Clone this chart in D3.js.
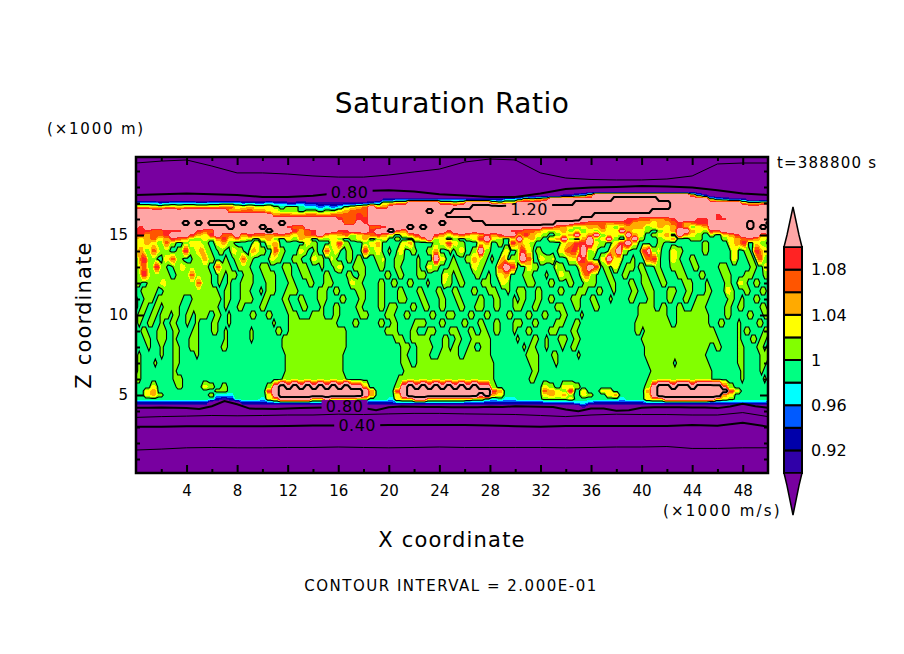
<!DOCTYPE html>
<html>
<head>
<meta charset="utf-8">
<script src="https://cdn.jsdelivr.net/npm/d3@7"></script>
<style>
body { margin: 0; background: #fff; }
text { font-family: "DejaVu Sans", sans-serif; fill: #000; }
</style>
</head>
<body>
<div id="TOP"></div>
<script>
//------------------------------------------------------------------------ Data
//one character per grid cell. Every cell is read off the picture at the height in zLevels
var bandChars  = [".", "a", "b", "c", "d", "g", "l", "y", "o", "r", "e", "p", "R"];
var bandValues = [0.85, 0.91, 0.93, 0.95, 0.97, 0.99, 1.01, 1.03, 1.05, 1.07, 1.09, 1.14, 1.26];

var zLevels = [18, 17.75, 17.5, 17.25, 17, 16.75, 16.5, 16.25, 16, 15.75, 15.5, 15.25, 15, 14.75, 14.5,
  14, 13.5, 13, 12.5, 12, 11.5, 11, 10.5, 10, 9.5, 9, 8.5, 8, 7.5, 7, 6.5, 6,
  5.5, 5.25, 5, 4.75, 4.5, 4.25, 4];

//upper layer, rows from 18 km down to 14.5 km, 0.5 km cells grouped in tens
var upperRows = [
  ".......... .......... .......... .......... .......... .......... .......... .......... .......... ..........",
  ".......... .......... .......... .......... .......... .......... .......... .......... .......... ..........",
  ".......... .......... .......... .......... .......... .......... .......aac dypppppppp pppppppoda ..........",
  ".......... .......... .......... .........a abbbbbbbbb bbaaaaaacc dylyoppppp pppppRRRRR RRpppppppp ldcbba....",
  "ddddccdddd ccdddddccc cdccbbcbba aaaaaabcdy yoopppppoo yoppppoyoo pppppppppR RRRRRRRRRR RRRRpppppp pppppoyyoo",
  "oooyyooyoo oooorryyoy yylgllgddc dcdlyorpoo pppppppppp pppRRRRRRR RRRRRRRRRR RRRRRRRRRR RRRRpppppp pppppppppp",
  "pppppppppp pppppoorro oyylllgllg llyorrrppp ppppppRppp RRRRRRRRRR RRRRRRRRRR RRRRRRRRRR Rppppppppp pppppppppp",
  "pppppppppp pppppppppp pporroorro orrrrerppp pppppppppR RRRRRRRRRR RRRRRRRRRR RRpppppppp pppppppppp pepppppppp",
  "pppppppppp pppppppppp pppppppppp pperreeppp pppppppppp pppRRRRRRR RRRRRRRRRR pppppppeer roorepppee peeppppppp",
  "ppppppppRp RpRRRRpRpp pppRpppppp ppprrpeppp ppppppppRp pppppRRRRR RRRRRRpppe errrorreoo oyooreoree ppppppRppR",
  "pepppppppp pppppRpppp Rppperrppp ppppppprre pppRpRpppp pppppppppp ppppeeroyl yoorylyooo lyoyoeolyo ppppppRpRp",
  "eeerreeepp errppppppp pRpppeorep ppeepppepp Reoppppppe pppppppppe erroylyoly lyloyypoyy lglyoppoyl eepppppppp",
  "reorrepppe oyeprrpoer roreoyorep oyorlyoreo ygyoeppeoy oeoyoeoepp oeoylglyop yoplyylpoy glyogpoylg lgyoepppoe",
  "oyoryoerol lyloeyoylg yolgyloygl lylglyogly glggyoplyg lglyepylgy pyolgyoplg oplyplgopl gglyoggllg gglyoreoyl",
  "lyoylrlgly ylgyolgggy gyoggggylg gyelgglyog ggyoggglye ylggyoglge oylggggyoe epylgyepyg gglggggggl gggyoegylg"
];

//middle layer, rows from 14 km down to 6 km, finer 0.25 km cells grouped in tens
var midRows = [
  "lyoollrryl llgglleell yoollggllg gyyllggooy llggrrllgg ggyylgglgg rrlyyggllg ggeellyygg lggyyggllg gglloogggl glyyggllpp llggggyygg leeyygllgg gggyyrreey ppllyggggo oppllgggge epllygggyy llggggggll gggggggyyg gllgeeoyyl",
  "lgoeelllgg yyrrllgggl lloollgggl ggllrrllgg gggyyllggg lllgggyyll ggylgggllg llggggllyg gglllggggl ggggppyygg lgggllooyl lglggoogll lpprrggyyl lyggggyyyp eellggyypp yyyggglggg rreelgggyy lgggllgggg gggggggyyg ggllgrrllg",
  "llyrrlleel lggllyylll llllggrrll lggllllggg lllgggglll gglllggggl ggglyygggl lllggggllg ggllgggggl ggyyllgggl llggggyyll ggggrrppee gggyyllggg ggyllggggl rrppeegllg yygglllgll gggllgggll llgggllggg ggglllgggg gggllggyyg",
  "llleeyllll llggllllrr lllllggllg lllgglllgg gllllgggll ggglllgggg llgggggllg gllggggggl lggllggggl llgggggyyl gllggggllg glggyyoogg gglllggggl gggyyllggg yrrllgggll gggllggggl lgggllgggg lllggggllg gggglllggg glllgggllg",
  "lllgglllly ylllllllll rrlllgglgg lgggllllgg gglllggggl lggggllggg lllgggggyy llgggggllg gllgggllgg gglggggyll ggllgggggl llgggyylgg ggglllgggg llggggllgg gllllggggl lggggllggl llgggllggg gglllggggl gggggllggy ylggllgggl",
  "lgglllllgg llllllllll lllllllggl lggglllggg lglllgggll llggggggll lggllggggg lllggggllg gggllggggl lggggllggg llggggllgg glllggglgg lllgggllgg gggllggggl llgggllggg lgggggllgg lllgggglll gggllggggl lggggyylgg gllgggllgg",
  "llgglllgll llllllgggl llllllllgl lgggllllgg gllggggllg ggllggggll lggggllggg gllggggllg ggglllgggg llggggllgg gllgggggll gggllggggl gllgggllgg llggggglll gggllggggl gggggllggg gllggggllg ggllggllll ggggggllgg lgggllgggl",
  "llgllggllg lllllgggll lllllllggl gggllggggg llggggggll gggllggggl gggllggggg llgggggllg lllggggllg gllgggllgg ggllggglll gggllggggl llgggllggg gglllgggll ggggllgggg ggggggggll lllggllggg llgggllllg gggggllggl lgggggllgg",
  "ggllggllgl llgllggllg llllggllgg lggggggllg ggllgggggl llggggllll gggllggggg glllgggggl llgggllggg gggllgggll lggggllggg llgggggllg gggllgggll ggggllgggg lggggggggg ggggggggll lllllllggg llllllllll gggggllggg ggllgggllg",
  "gglggllggl ggllggglgg lggggllggg lggggggggg gggglggggl llllllllll llllgggggl lggggggllg gllgggggll llggggllgg gggllgggll gggllggggl llgggllggg gglllgggll gggggggggg ggggggglll llllllllgg llllllllll gggllggggl gggggllggl",
  "lggllgggll lggllggggl lggggllggl ggggggglgg gggggllggl llllllllll lllllllggg gggggggggl lllggggllg gglllggggl llgggllggl lggllggggl gggllggggg lllggggllg gggggggggg gggggggllg llllllllll llllllllll llgggggggl gllgggglll",
  "lgggllggll lgglggggll lggggggggl ggggggglgg ggggggglll llllllllll lllllllggg gggggggggg gglllgglll lllggggllg gllgggllll llgggggggg lggggllggl ggglllggll gggggggggg gggggggggl llllllllll llllllllll lllggggggl gggllgllgl",
  "lgggglgggl gggllgggll lgggggggll gggggggggg ggggggglll llllllllll lllllllggg gggggggggg gggglllggl llllgggllg llgggllggl llgggggggg gglgllgggl gggglggllg gggggggggg gggggggggg llllllllll llllllllll ggllgggggl lggggllglg",
  "gglggggggl gggllggggg lggggggggg gggggggggg ggggggggll llllllllll llllllgggg gggggggggg ggggllgggl lllgggllll llggllllll llgggggggg gggllllggg gllggggggl gggggggggg gggggggggg llllllllll lllllllllg gggggggggl lggggglllg",
  "gglgggglgg gggllggggg gggggggggg gggggggggg ggggggggll llllllllll llllllgggg gggggggggg gggglllggl llllllllll llllllllll lllggggggg gggglllggg gglggggggg gggggggggg gggggggggg gllllllllg llllllllll gggggggggl lgggggllgg",
  "gglggggggg ggglgggggg gggggggggg gggggggggg ggggggggll llllllllll llllllgggg gggggggggg ggggglllll llllllllll llllllllll lllggggggg gggggllggg gggggggggg gggggggggg gggggggggg ggllllllll llllllllll lggggggggg lggggglggg",
  "gllggggggg ggglllgggg gggggggggg gggggggggg ggggggglll llllllllll lllllllggg gggggggggg ggglllllll llllllllll llllllllll lllggggggg ggggllgggg gggggggggg gggggggggg gggggggggg glllllllll llllllllll lggggggggg lgggggglgg"
];

//lower layer, rows from 5.5 km down to 4 km, 0.5 km cells grouped in tens
var lowerRows = [
  "gggyggglgg gylglggggg glpRpRpRpR pRpRppoggg glpRpRpRpR pRpRpplggg ggggylgyyl gggggggggg lpRRpRRpRR RRelgggggg",
  "ggyogggggg gggllggggg gepRRRRRRR RRRRRRpogg gepRRRRRRR RRRRRReogg ggggroyleg yggyyggggg opRRRRRRRR RRReyggggg",
  "ggyolggggg ggldddgggg gypRRRRRRR RRRRRRpogg gypRRRRRRR RRRRpRoygg ggggyoyolg ylggyogggg ypRRRRRRRR RRoygggggg",
  "gggggggggg gggbabgggg dyopppppoo pooooyyggg dyooppoooo oooyygdgdd ggggllllyg ggggggdggg yooppppppp poylgggggg",
  "bbbbbbbbbb bb.....bbb bbcccccccc ccccbbbbbb bccccccccc ccbbbbbbbb bbbbbbbbbd dcbbbbbbbb cccccccccc bbbbcccccb",
  ".......... .......... .......... .......... .......... .......... .......... a......... .......... ..........",
  ".......... .......... .......... .......... .......... .......... .......... .......... .......... .........."
];

//colour bands of the filled field
var bandThresholds = [0.90, 0.92, 0.94, 0.96, 0.98, 1.00, 1.02, 1.04, 1.06, 1.08, 1.10];
var bandColors = ["#7800a0", "#3000a8", "#0000aa", "#005aff", "#00ffff", "#00ff82", "#82ff00", "#ffff00", "#ffaa00", "#ff5500", "#ff2323", "#ffa5a5"];
var barLabels = [0.92, 0.96, 1, 1.04, 1.08];

//smooth contour lines in the dry layers, height in km at lineKm
var lineKm = [0, 2, 4, 6, 8, 10, 12, 14, 16, 18, 20, 22, 24, 26, 28, 30, 32, 34, 36, 38, 40, 42, 44, 46, 48, 50];
var upper06 = [19.5, 19.62, 19.69, 19.31, 18.88, 18.88, 18.81, 18.69, 18.62, 18.62, 18.75, 18.94, 19.12, 19.56, 19.75, 19.69, 18.88, 18.56, 18.47, 18.44, 18.44, 18.5, 18.69, 19.44, 19.5, 19.5];
var upper08 = [17.5, 17.55, 17.6, 17.55, 17.5, 17.38, 17.38, 17.45, 17.62, 17.75, 17.8, 17.72, 17.55, 17.47, 17.38, 17.38, 17.6, 17.88, 17.97, 18, 18.06, 18.03, 17.97, 17.8, 17.6, 17.5];
var lower06 = [3.6, 3.65, 3.68, 3.72, 3.7, 3.72, 3.75, 3.75, 3.8, 3.78, 3.82, 3.85, 3.85, 3.82, 3.8, 3.78, 3.72, 3.65, 3.75, 3.8, 3.78, 3.78, 3.75, 3.75, 3.9, 3.65];
var lower04 = [3.02, 3.02, 3.04, 3.05, 3.04, 3.04, 3.06, 3.1, 3.1, 3.1, 3.12, 3.12, 3.12, 3.12, 3.1, 3.05, 3.02, 3.06, 3.06, 3.06, 3.06, 3.06, 3.12, 3.08, 3.27, 3.02];
var lower02 = [1.56, 1.62, 1.7, 1.72, 1.7, 1.7, 1.72, 1.72, 1.75, 1.72, 1.7, 1.72, 1.75, 1.72, 1.72, 1.72, 1.72, 1.7, 1.72, 1.75, 1.75, 1.78, 1.66, 1.66, 1.7, 1.7];
//this one has more wiggle, one value per km from 0 to 50
var lower08 = [4.2, 4.2, 4.22, 4.2, 4.18, 4.12, 4.3, 4.62, 4.42, 4.15, 4.14, 4.12, 4.15, 4.18, 4.2, 4.22, 4.22, 4.22, 4.18, 4.05, 4.24, 4.28, 4.26, 4.25, 4.25, 4.24, 4.24, 4.24, 4.26, 4.25, 4.3, 4.28, 4.27, 4.25, 4.1, 3.98, 4.15, 4.16, 4.02, 4.05, 4.2, 4.24, 4.24, 4.24, 4.22, 4.22, 4.18, 4.28, 4.45, 4.3, 4.2];

//inline contour labels: text, km, height, background
var labelTexts = ["0.80", "0.80", "0.40", "1.20"];
var labelKm = [16.9, 16.5, 17.5, 31.1];
var labelZ = [17.69, 4.31, 3.09, 16.6];
var labelBack = ["#7800a0", "#7800a0", "#7800a0", "#ffa5a5"];

//------------------------------------------------------------------------ Variables
var plot = {left: 136, right: 768, top: 157, bottom: 473};
var kmDomain = [0, 50];
var zDomain = [0.125, 19.875];

var svg = d3.select("#TOP").append("svg")
  .attr("width", 904)
  .attr("height", 654)
  .style("display", "block");

var x = d3.scaleLinear().domain(kmDomain).range([plot.left, plot.right]);
var y = d3.scaleLinear().domain(zDomain).range([plot.bottom, plot.top]);

//------------------------------------------------------------------------ Field
function fineRow(r){
  return r.replace(/ /g, "").split("");
}
//coarse rows carry each cell twice to fit the fine grid
function coarseRow(r){
  return fineRow(r).flatMap(function(c){ return [c, c]; });
}
var rowCells = upperRows.map(coarseRow).concat(midRows.map(fineRow), lowerRows.map(coarseRow));
var nx = rowCells[0].length, ny = rowCells.length;
var fieldValues = rowCells.flat().map(function(c){ return bandValues[bandChars.indexOf(c)]; });

//grid index to km, reaches past the frame so the grid border is clipped away
var colKm = d3.scaleLinear().domain([0, nx - 1]).range([-0.25, 50.25]);
var rowZ = d3.scaleLinear().domain(d3.range(ny)).range(zLevels);

var gridContours = d3.contours().size([nx, ny]);
function contourPath(level){
  var geo = gridContours.contour(fieldValues, level);
  var path = d3.line();
  return geo.coordinates.map(function(poly){
    return poly.map(function(ring){
      return path(ring.map(function(p){ return [x(colKm(p[0] - 0.5)), y(rowZ(p[1] - 0.5))]; })) + "Z";
    }).join("");
  }).join("");
}

svg.append("clipPath").attr("id", "plotClip").append("rect")
  .attr("x", plot.left).attr("y", plot.top)
  .attr("width", plot.right - plot.left).attr("height", plot.bottom - plot.top);

var gField = svg.append("g").attr("clip-path", "url(#plotClip)");

gField.append("rect")
  .attr("x", plot.left).attr("y", plot.top)
  .attr("width", plot.right - plot.left).attr("height", plot.bottom - plot.top)
  .attr("fill", bandColors[0]);

gField.selectAll("path.band").data(bandThresholds).enter().append("path")
  .attr("class", "band")
  .attr("d", contourPath)
  .attr("fill", function(d, i){ return bandColors[i + 1]; })
  .attr("fill-rule", "evenodd")
  .attr("shape-rendering", "crispEdges");

//black contours that come from the grid
gField.append("path").attr("d", contourPath(1.0))
  .attr("fill", "none").attr("stroke", "#000").attr("stroke-width", 1.1);
gField.append("path").attr("d", contourPath(1.2))
  .attr("fill", "none").attr("stroke", "#000").attr("stroke-width", 2);

//dry layer contours
var kmLine = d3.line()
  .x(function(d){ return x(d[0]); })
  .y(function(d){ return y(d[1]); });
function addLine(kms, zs, w){
  gField.append("path")
    .attr("d", kmLine(kms.map(function(k, i){ return [k, zs[i]]; })))
    .attr("fill", "none").attr("stroke", "#000").attr("stroke-width", w);
}
addLine(lineKm, upper06, 1);
addLine(lineKm, upper08, 2);
addLine(d3.range(51), lower08, 2);
addLine(lineKm, lower06, 1);
addLine(lineKm, lower04, 2);
addLine(lineKm, lower02, 1);

//inline labels sit on a patch of the band colour to break the line
labelTexts.forEach(function(t, i){
  gField.append("rect")
    .attr("x", x(labelKm[i]) - 23).attr("y", y(labelZ[i]) - 6)
    .attr("width", 46).attr("height", 12)
    .attr("fill", labelBack[i]);
  gField.append("text")
    .attr("x", x(labelKm[i])).attr("y", y(labelZ[i]))
    .attr("dy", "0.36em").attr("text-anchor", "middle")
    .attr("font-size", 16)
    .attr("letter-spacing", 0.5)
    .text(t);
});

//------------------------------------------------------------------------ Axes
function styleAxis(g){
  g.select(".domain").remove();
  g.selectAll(".tick line").attr("stroke", "#000").attr("stroke-width", 2);
  g.selectAll(".tick text").attr("font-size", 15).attr("font-family", "DejaVu Sans");
}
var major = d3.range(4, 50, 4), minor = d3.range(2, 50, 4);
var zMajor = [5, 10, 15], zMinor = d3.range(1, 20).filter(function(d){ return d % 5 != 0; });

svg.append("g").attr("transform", "translate(0," + plot.bottom + ")")
  .call(d3.axisBottom(x).tickValues(major).tickSizeInner(-8).tickSizeOuter(0).tickPadding(12))
  .call(styleAxis);
svg.append("g").attr("transform", "translate(0," + plot.bottom + ")")
  .call(d3.axisBottom(x).tickValues(minor).tickSizeInner(-4).tickSizeOuter(0).tickFormat(""))
  .call(styleAxis);
svg.append("g").attr("transform", "translate(0," + plot.top + ")")
  .call(d3.axisTop(x).tickValues(major).tickSizeInner(-8).tickSizeOuter(0).tickFormat(""))
  .call(styleAxis);
svg.append("g").attr("transform", "translate(0," + plot.top + ")")
  .call(d3.axisTop(x).tickValues(minor).tickSizeInner(-4).tickSizeOuter(0).tickFormat(""))
  .call(styleAxis);
svg.append("g").attr("transform", "translate(" + plot.left + ",0)")
  .call(d3.axisLeft(y).tickValues(zMajor).tickSizeInner(-8).tickSizeOuter(0).tickPadding(8).tickFormat(d3.format("d")))
  .call(styleAxis);
svg.append("g").attr("transform", "translate(" + plot.left + ",0)")
  .call(d3.axisLeft(y).tickValues(zMinor).tickSizeInner(-4).tickSizeOuter(0).tickFormat(""))
  .call(styleAxis);
svg.append("g").attr("transform", "translate(" + plot.right + ",0)")
  .call(d3.axisRight(y).tickValues(zMajor).tickSizeInner(-8).tickSizeOuter(0).tickFormat(""))
  .call(styleAxis);
svg.append("g").attr("transform", "translate(" + plot.right + ",0)")
  .call(d3.axisRight(y).tickValues(zMinor).tickSizeInner(-4).tickSizeOuter(0).tickFormat(""))
  .call(styleAxis);

svg.append("rect")
  .attr("x", plot.left).attr("y", plot.top)
  .attr("width", plot.right - plot.left).attr("height", plot.bottom - plot.top)
  .attr("fill", "none").attr("stroke", "#000").attr("stroke-width", 2.5);

//------------------------------------------------------------------------ Colour bar
var bar = {left: 784, right: 802, top: 247, bottom: 473, tipTop: 207, tipBottom: 515};
var barY = d3.scaleLinear().domain([0.90, 1.10]).range([bar.bottom, bar.top]);
var barMid = (bar.left + bar.right) / 2;

d3.pairs(bandThresholds).forEach(function(p, i){
  svg.append("rect")
    .attr("x", bar.left).attr("y", barY(p[1]))
    .attr("width", bar.right - bar.left).attr("height", barY(p[0]) - barY(p[1]))
    .attr("fill", bandColors[i + 1])
    .attr("stroke", "#000").attr("stroke-width", 2);
});
function barTip(yBase, yTip, colour){
  var knee = yBase + (yTip - yBase) * 0.3;
  svg.append("path")
    .attr("d", d3.line()([[bar.left, yBase], [bar.left + 3, knee], [barMid, yTip], [bar.right - 3, knee], [bar.right, yBase]]) + "Z")
    .attr("fill", colour).attr("stroke", "#000").attr("stroke-width", 1.5);
}
barTip(bar.top, bar.tipTop, bandColors[11]);
barTip(bar.bottom, bar.tipBottom, bandColors[0]);

svg.selectAll("text.barLabel").data(barLabels).enter().append("text")
  .attr("class", "barLabel")
  .attr("x", 811).attr("y", function(d){ return barY(d); })
  .attr("dy", "0.36em")
  .attr("font-size", 16)
  .text(function(d){ return d; });

//------------------------------------------------------------------------ Titles
function addText(t, px, py, size, anchor, spacing){
  return svg.append("text")
    .attr("x", px).attr("y", py)
    .attr("dy", "0.36em")
    .attr("font-size", size)
    .attr("text-anchor", anchor)
    .attr("letter-spacing", spacing)
    .text(t);
}
addText("Saturation Ratio", 452, 103, 28, "middle", 0.5);
addText("(\u00d71000 m)", 47, 129, 15, "start", 1.8);
addText("t=388800 s", 777, 163, 15, "start", 1.2);
addText("(\u00d71000 m/s)", 663, 511, 15, "start", 2.2);
addText("X coordinate", 452, 539, 21, "middle", 1.2);
addText("CONTOUR INTERVAL = 2.000E-01", 451, 586, 15, "middle", 1.5);
addText("Z coordinate", 0, 0, 21, "middle", 1.2)
  .attr("transform", "translate(83,315) rotate(-90)");
</script>
</body>
</html>
